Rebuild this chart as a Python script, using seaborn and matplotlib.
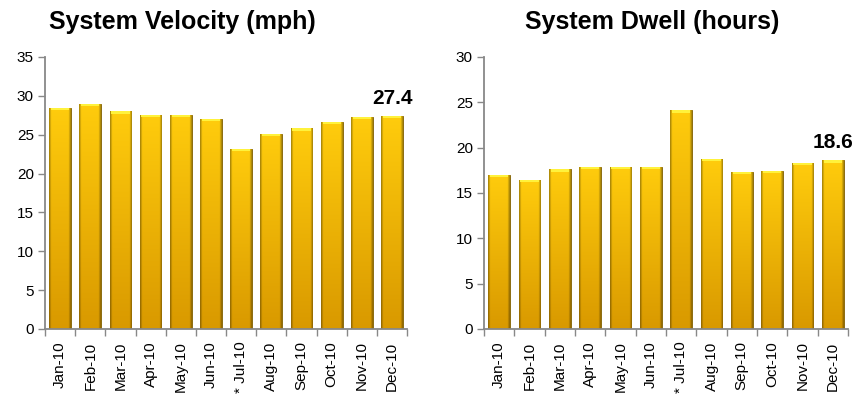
import numpy as np
import pandas as pd
import matplotlib
matplotlib.use("Agg")
import matplotlib.pyplot as plt
import seaborn as sns

# data
months = ["Jan-10", "Feb-10", "Mar-10", "Apr-10", "May-10", "Jun-10",
          "* Jul-10", "Aug-10", "Sep-10", "Oct-10", "Nov-10", "Dec-10"]
velocity = [28.5, 29.0, 28.0, 27.6, 27.6, 27.0, 23.2, 25.1, 25.8, 26.6, 27.3, 27.4]
dwell = [17.0, 16.4, 17.6, 17.9, 17.9, 17.9, 24.1, 18.75, 17.3, 17.4, 18.3, 18.6]

sns.set_theme(style="white")
plt.rcParams['font.family'] = ['Liberation Sans', 'DejaVu Sans']
plt.rcParams['text.color'] = 'black'
plt.rcParams['xtick.color'] = 'black'
plt.rcParams['ytick.color'] = 'black'

fig = plt.figure(figsize=(8.54, 4.0), dpi=100)
ax1 = fig.add_axes([0.0527, 0.1775, 0.424, 0.68])
ax2 = fig.add_axes([0.5667, 0.1775, 0.4263, 0.68])

# gold bar texture: vertical light->dark, darker towards the side edges
top = np.array([1.0, 0.80, 0.05])
bot = np.array([0.85, 0.60, 0.0])
ny, nx = 200, 40
t = np.linspace(0, 1, ny)[:, None, None]
tex = top * (1 - t) + bot * t
u = np.linspace(-1, 1, nx)[None, :, None]
edge = 1 - 0.35 * np.clip((np.abs(u) - 0.8) / 0.2, 0, 1)
tex = np.clip(tex * edge, 0, 1)


def draw(ax, values, ymax, label):
    df = pd.DataFrame({"month": months, "value": values})
    sns.barplot(data=df, x="month", y="value", ax=ax, color="#F5B800",
                width=0.72, edgecolor="#7A5A00", linewidth=0.6, saturation=1)
    for p in ax.patches:
        x0, y0 = p.get_x(), p.get_y()
        w, h = p.get_width(), p.get_height()
        im = ax.imshow(tex, aspect="auto", interpolation="bilinear",
                       extent=[x0, x0 + w, y0, y0 + h], zorder=p.get_zorder())
        im.set_clip_path(p)
        # thin light bevel on top of each bar
        ax.fill_between([x0 + w * 0.08, x0 + w * 0.92], y0 + h - ymax * 0.008,
                        y0 + h, color="#FFF23C", zorder=p.get_zorder() + 0.1, lw=0)
    ax.set_xlim(-0.5, len(months) - 0.5)
    ax.set_ylim(0, ymax)
    ax.set_yticks(range(0, ymax + 1, 5))
    ax.set_xticks(np.arange(len(months)))
    ax.set_xticklabels(months, rotation=90, fontsize=11)
    ax.tick_params(axis="x", length=0, pad=9)
    ax.tick_params(axis="y", labelsize=11, length=5, width=1, color="#888888",
                   direction="out", left=True, pad=3)
    # category separators on x axis
    ax.set_xticks(np.arange(len(months) + 1) - 0.5, minor=True)
    ax.tick_params(axis="x", which="minor", length=5, width=1,
                   color="#888888", bottom=True, direction="out")
    for s in ["top", "right"]:
        ax.spines[s].set_visible(False)
    for s in ["left", "bottom"]:
        ax.spines[s].set_color("#888888")
        ax.spines[s].set_linewidth(1.3)
    ax.set_xlabel("")
    ax.set_ylabel("")
    ax.annotate(label, xy=(len(months) - 1, values[-1]), xytext=(0, 6),
                textcoords="offset points", ha="center", va="bottom",
                fontsize=15, fontweight="bold")


draw(ax1, velocity, 35, "27.4")
draw(ax2, dwell, 30, "18.6")

fig.text(0.213, 0.945, "System Velocity (mph)", ha="center", va="center",
         fontsize=18, fontweight="bold")
fig.text(0.764, 0.945, "System Dwell (hours)", ha="center", va="center",
         fontsize=18, fontweight="bold")

fig.savefig("out.png", dpi=100)
